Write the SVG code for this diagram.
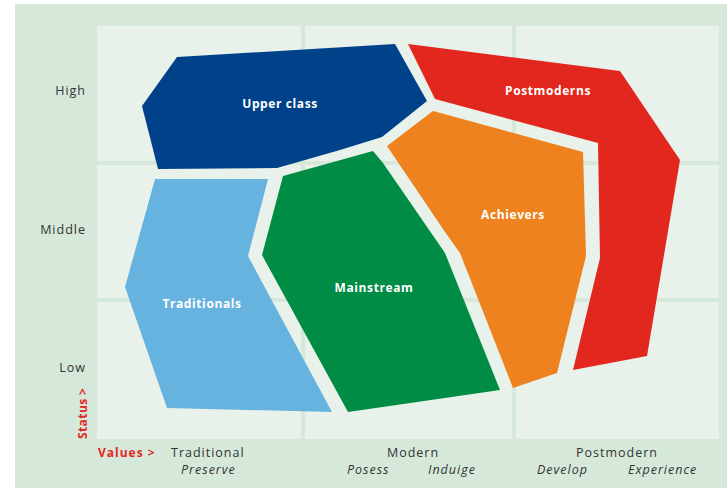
<svg xmlns="http://www.w3.org/2000/svg" width="727" height="489" viewBox="0 0 727 489">
<style>
.lbl{font-family:"Open Sans","Liberation Sans",sans-serif;font-size:12.5px;letter-spacing:1px;fill:#333;}
.it{font-style:italic;}
.red{font-family:"Open Sans","Liberation Sans",sans-serif;font-size:12px;font-weight:bold;letter-spacing:1px;fill:#e2271f;}
.seg{font-family:"Open Sans","Liberation Sans",sans-serif;font-size:12px;font-weight:bold;letter-spacing:0.6px;fill:#fff;text-anchor:middle;}
.panel{fill:#e8f2ea;}
</style>
<rect x="0" y="0" width="727" height="489" fill="#ffffff"/>
<rect x="15" y="4" width="712" height="484" fill="#d6e8da"/>
<g id="grid">
<rect class="panel" x="97" y="26" width="204" height="135"/>
<rect class="panel" x="305" y="26" width="207" height="135"/>
<rect class="panel" x="516" y="26" width="203" height="135"/>
<rect class="panel" x="97" y="165" width="204" height="133"/>
<rect class="panel" x="305" y="165" width="207" height="133"/>
<rect class="panel" x="516" y="165" width="203" height="133"/>
<rect class="panel" x="97" y="302" width="204" height="137"/>
<rect class="panel" x="305" y="302" width="207" height="137"/>
<rect class="panel" x="516" y="302" width="203" height="137"/>
</g>
<g id="upper-class">
<polygon fill="#00428a" points="177,57 395,44 427,101 382,137 340,150 277,168 158,169 142,106"/>
<text class="seg" x="280" y="108">Upper class</text>
</g>
<g id="postmoderns">
<polygon fill="#e2271f" points="408,44 620,71 680,160 647,356 573,370 600,258 598,143 435,99"/>
<text class="seg" x="548" y="95">Postmoderns</text>
</g>
<g id="achievers">
<polygon fill="#ee821e" points="433,111 583,152 586,256 557,373 513,388 460,253 445,232 387,146"/>
<text class="seg" x="513" y="219">Achievers</text>
</g>
<g id="mainstream">
<polygon fill="#008c45" points="283,176 373,151 383,163 445,253 500,390 348,412 262,255"/>
<text class="seg" x="374" y="292">Mainstream</text>
</g>
<g id="traditionals">
<polygon fill="#67b3e0" points="155,179 268,179 248,256 332,412 167,408 125,287"/>
<text class="seg" x="202" y="308">Traditionals</text>
</g>
<g id="axes">
<text class="lbl" x="86" y="95" text-anchor="end">High</text>
<text class="lbl" x="86" y="234" text-anchor="end">Middle</text>
<text class="lbl" x="86" y="372" text-anchor="end">Low</text>
<text class="red" transform="translate(87,439) rotate(-90)" style="letter-spacing:0.4px">Status &gt;</text>
<text class="red" x="98" y="457">Values &gt;</text>
<text class="lbl" x="171" y="457">Traditional</text>
<text class="lbl" x="413" y="457" text-anchor="middle">Modern</text>
<text class="lbl" x="617" y="457" text-anchor="middle">Postmodern</text>
<text class="lbl it" x="181" y="474">Preserve</text>
<text class="lbl it" x="347" y="474">Posess</text>
<text class="lbl it" x="428" y="474">Induige</text>
<text class="lbl it" x="537" y="474">Develop</text>
<text class="lbl it" x="628" y="474">Experience</text>
</g>
</svg>
